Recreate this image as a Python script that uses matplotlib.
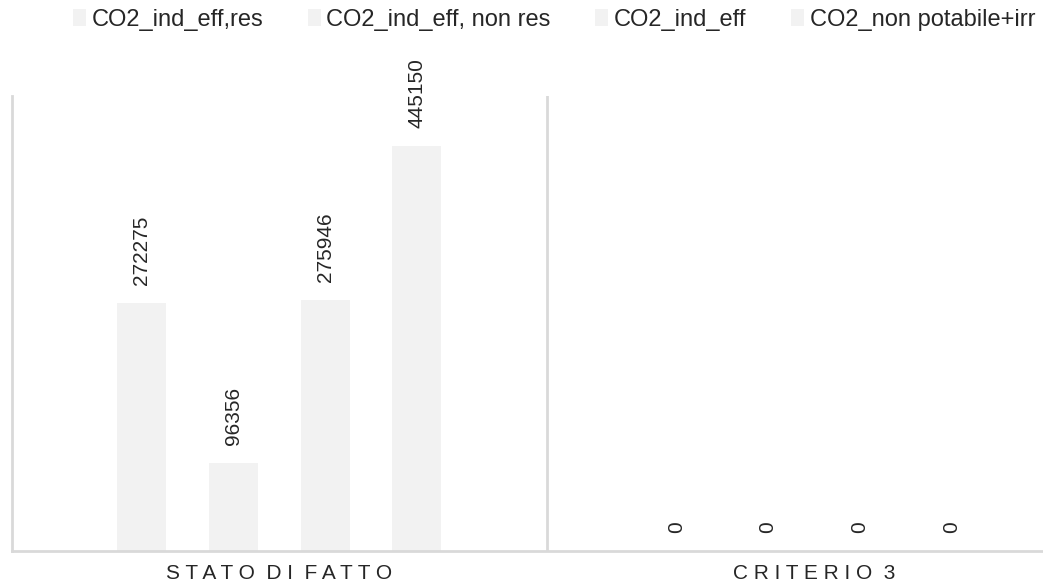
import matplotlib
matplotlib.use("Agg")
import matplotlib.pyplot as plt
from matplotlib.patches import Patch
import numpy as np

plt.rcParams["font.family"] = ["Liberation Sans", "DejaVu Sans"]

categories = ["STATO DI FATTO", "CRITERIO 3"]
series_names = ["CO2_ind_eff,res", "CO2_ind_eff, non res",
                "CO2_ind_eff", "CO2_non potabile+irr"]
co2_ind_eff_res = [272275, 0]
co2_ind_eff_nonres = [96356, 0]
co2_ind_eff = [275946, 0]
co2_nonpotabile_irr = [445150, 0]
series_values = [co2_ind_eff_res, co2_ind_eff_nonres, co2_ind_eff, co2_nonpotabile_irr]

bar_color = "#f2f2f2"
axis_color = "#d9d9d9"
text_color = "#262626"


def spaced(label):
    # letter-spaced category caption
    return "  ".join(" ".join(word) for word in label.split(" "))


fig = plt.figure(figsize=(10.43, 5.85), dpi=100)
ax = fig.add_axes([0.0115, 0.0581, 1.025, 0.778])

x = np.arange(len(categories))
step = 0.1717
width = 0.0916
for i, vals in enumerate(series_values):
    offs = (i - 1.5) * step
    ax.bar(x + offs, vals, width=width, color=bar_color, zorder=2)
    for xi, v in zip(x + offs, vals):
        ax.annotate(f"{v}", (xi, v), xytext=(0, 13), textcoords="offset points",
                    rotation=90, ha="center", va="bottom", fontsize=15,
                    color=text_color)

ax.set_xlim(-0.5, 1.5)
ax.set_ylim(0, 500000)
ax.set_yticks([])
ax.set_xticks(x)
ax.set_xticklabels([spaced(c) for c in categories], fontsize=15, color=text_color)
ax.tick_params(axis="x", length=0, pad=9)
for s in ["top", "right"]:
    ax.spines[s].set_visible(False)
for s in ["left", "bottom"]:
    ax.spines[s].set_color(axis_color)
    ax.spines[s].set_linewidth(2)
ax.axvline(0.5, color=axis_color, lw=2, zorder=1)

handles = [Patch(facecolor=bar_color, edgecolor="none") for _ in series_names]
fig.legend(handles, series_names, loc="center", bbox_to_anchor=(554 / 1043, 0.966),
           ncol=4, frameon=False, fontsize=17, handlelength=0.55, handleheight=0.7,
           handletextpad=0.25, columnspacing=1.88, borderpad=0, labelcolor=text_color)

fig.savefig("out.png", dpi=100)
